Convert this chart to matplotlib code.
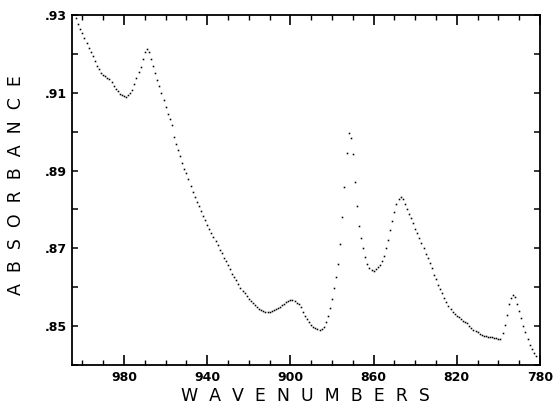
import matplotlib
matplotlib.use("Agg")
import matplotlib.pyplot as plt
from matplotlib.ticker import MultipleLocator, FixedLocator

# wavenumber (cm^-1), one reading per dot
wavenumbers = list(range(1003, 781, -1))

absorbance = [
    # 1003 .. 980
    0.9292, 0.9277, 0.9264, 0.9253, 0.9241, 0.9229, 0.9216, 0.9204, 0.9194, 0.9183,
    0.9169, 0.9160, 0.9151, 0.9145, 0.9142, 0.9139, 0.9135, 0.9129, 0.9118, 0.9110,
    0.9104, 0.9098, 0.9094, 0.9091,
    # 979 .. 946
    0.9090, 0.9094, 0.9100, 0.9108, 0.9123, 0.9139, 0.9153, 0.9167, 0.9186, 0.9206,
    0.9213, 0.9205, 0.9188, 0.9170, 0.9152, 0.9133, 0.9117, 0.9100, 0.9082, 0.9063,
    0.9045, 0.9033, 0.9017, 0.8986, 0.8968, 0.8953, 0.8938, 0.8920, 0.8905, 0.8895,
    0.8879, 0.8861, 0.8846, 0.8832,
    # 945 .. 910
    0.8820, 0.8808, 0.8796, 0.8784, 0.8772, 0.8761, 0.8750, 0.8740, 0.8730, 0.8720,
    0.8708, 0.8697, 0.8687, 0.8676, 0.8667, 0.8656, 0.8646, 0.8635, 0.8626, 0.8618,
    0.8608, 0.8598, 0.8590, 0.8584, 0.8577, 0.8571, 0.8565, 0.8560, 0.8554, 0.8548,
    0.8545, 0.8542, 0.8539, 0.8537, 0.8536, 0.8536,
    # 909 .. 877
    0.8538, 0.8541, 0.8544, 0.8547, 0.8550, 0.8554, 0.8558, 0.8561, 0.8564, 0.8566,
    0.8566, 0.8564, 0.8560, 0.8556, 0.8549, 0.8537, 0.8527, 0.8519, 0.8510, 0.8503,
    0.8498, 0.8494, 0.8493, 0.8491, 0.8493, 0.8499, 0.8510, 0.8526, 0.8546, 0.8570,
    0.8598, 0.8626, 0.8660,
    # 876 .. 847
    0.8712, 0.8780, 0.8857, 0.8945, 0.8997, 0.8984, 0.8942, 0.8870, 0.8808, 0.8757,
    0.8726, 0.8700, 0.8678, 0.8660, 0.8650, 0.8645, 0.8643, 0.8646, 0.8651, 0.8658,
    0.8667, 0.8680, 0.8700, 0.8722, 0.8746, 0.8770, 0.8793, 0.8813, 0.8826, 0.8832,
    # 846 .. 816
    0.8828, 0.8815, 0.8800, 0.8789, 0.8778, 0.8764, 0.8751, 0.8740, 0.8727, 0.8714,
    0.8700, 0.8686, 0.8674, 0.8662, 0.8650, 0.8632, 0.8620, 0.8607, 0.8595, 0.8585,
    0.8572, 0.8561, 0.8551, 0.8543, 0.8536, 0.8530, 0.8525, 0.8523, 0.8518, 0.8514,
    0.8511,
    # 815 .. 782
    0.8507, 0.8501, 0.8495, 0.8491, 0.8487, 0.8484, 0.8480, 0.8476, 0.8475, 0.8474,
    0.8473, 0.8472, 0.8471, 0.8470, 0.8469, 0.8468, 0.8467, 0.8482, 0.8502, 0.8528,
    0.8558, 0.8572, 0.8580, 0.8576, 0.8558, 0.8540, 0.8522, 0.8500, 0.8484, 0.8467,
    0.8452, 0.8440, 0.8430, 0.8422,
]

x_ticks = [980, 940, 900, 860, 820, 780]
x_tick_labels = ["980", "940", "900", "860", "820", "780"]
y_ticks = [0.85, 0.87, 0.89, 0.91, 0.93]
y_tick_labels = [".85", ".87", ".89", ".91", ".93"]
x_label = "W  A  V  E  N  U  M  B  E  R  S"
y_label = "A  B  S  O  R  B  A  N  C  E"

fig = plt.figure(figsize=(5.56, 4.11), dpi=100)
ax = fig.add_axes([72 / 556, 1 - 365 / 411, (540 - 72) / 556, (365 - 15) / 411])

ax.plot(wavenumbers, absorbance, linestyle="none", marker="s",
        markersize=1.15, color="black", markeredgewidth=0)

ax.set_xlim(1005, 780)
ax.set_ylim(0.840, 0.930)

ax.xaxis.set_major_locator(FixedLocator(x_ticks))
ax.xaxis.set_minor_locator(MultipleLocator(10))
ax.yaxis.set_major_locator(FixedLocator(y_ticks))
ax.yaxis.set_minor_locator(MultipleLocator(0.01))
ax.set_xticklabels(x_tick_labels, fontsize=9, fontweight="bold", family="DejaVu Sans")
ax.set_yticklabels(y_tick_labels, fontsize=9, fontweight="bold", family="DejaVu Sans")

ax.tick_params(axis="x", which="major", direction="in", length=7, width=1.2,
               top=True, bottom=True, pad=4)
ax.tick_params(axis="x", which="minor", direction="in", length=3.5, width=1.0,
               top=True, bottom=True)
ax.tick_params(axis="y", which="both", direction="in", length=4, width=1.1,
               left=True, right=True, pad=4)

for s in ax.spines.values():
    s.set_linewidth(1.3)
    s.set_color("black")

fig.text(305 / 556, 1 - 396 / 411, x_label, ha="center", va="center",
         fontsize=12.5, family="DejaVu Sans", color="black")
fig.text(16.5 / 556, 1 - 185 / 411, y_label, ha="center", va="center",
         rotation=90, fontsize=12.5, family="DejaVu Sans", color="black")

fig.savefig("out.png", dpi=100, facecolor="white")
